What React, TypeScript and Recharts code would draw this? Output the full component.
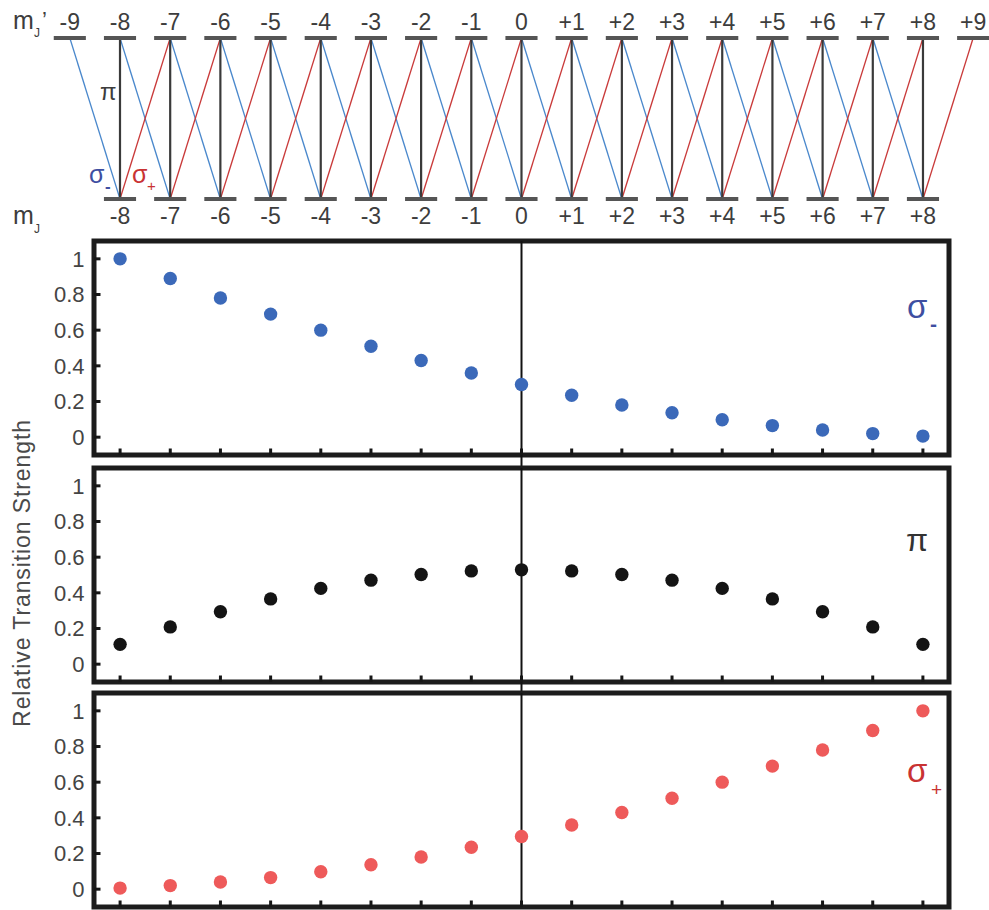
import { ScatterChart, Scatter, XAxis, YAxis, ReferenceLine, ReferenceArea } from "recharts";

// m_J of the lower levels, m_J' of the upper levels
const MJ = [-8, -7, -6, -5, -4, -3, -2, -1, 0, 1, 2, 3, 4, 5, 6, 7, 8];
const MJ_UPPER = [-9, -8, -7, -6, -5, -4, -3, -2, -1, 0, 1, 2, 3, 4, 5, 6, 7, 8, 9];

// relative transition strengths
const SIGMA_MINUS = [1.0, 0.89, 0.78, 0.69, 0.6, 0.51, 0.43, 0.36, 0.295, 0.235, 0.18, 0.137, 0.098, 0.065, 0.04, 0.02, 0.006];
const PI = [0.111, 0.209, 0.294, 0.366, 0.425, 0.471, 0.503, 0.523, 0.529, 0.523, 0.503, 0.471, 0.425, 0.366, 0.294, 0.209, 0.111];
const SIGMA_PLUS = [0.006, 0.02, 0.04, 0.065, 0.098, 0.137, 0.18, 0.235, 0.295, 0.36, 0.43, 0.51, 0.6, 0.69, 0.78, 0.89, 1.0];
const Y_TICKS = [0, 0.2, 0.4, 0.6, 0.8, 1];

const W = 989;
const FONT = "'Liberation Sans', Arial, sans-serif";
const TEXT = "#3d3d3d";
const BLUE_DOT = "#3b69b9";
const RED_DOT = "#ee5a5a";
const BLACK_DOT = "#141414";
const BLUE_LINE = "#4a88cc";
const RED_LINE = "#c93a3a";
const BLUE_TXT = "#3e4fa1";
const RED_TXT = "#c93333";

const X_DOMAIN: [number, number] = [-8.52, 8.52];
const PANEL_H = 214;
const PAD = 12;

const fmtM = (n: number) => (n > 0 ? `+${n}` : `${n}`);
const noLabel = () => <g />;

const Panel = ({ top, values, color, extendDown }: { top: number; values: number[]; color: string; extendDown: boolean }) => {
  const data = MJ.map((m, i) => ({ m, v: values[i] }));
  // x axes get height 1 (a zero-height axis is not drawn), taken out of the margins
  return (
    <div style={{ position: "absolute", left: 0, top: top - PAD, width: W }}>
      <ScatterChart width={W} height={PANEL_H + 2 * PAD} margin={{ top: PAD - 1, bottom: PAD - 1, left: 44, right: 40 }}>
        <XAxis type="number" dataKey="m" domain={X_DOMAIN} ticks={MJ} interval={0} height={1}
          allowDataOverflow axisLine={false} tick={noLabel} tickSize={-6.5}
          tickLine={{ stroke: "#161616", strokeWidth: 3 }} />
        <XAxis xAxisId="top" orientation="top" type="number" domain={X_DOMAIN} ticks={MJ} interval={0} height={1}
          allowDataOverflow axisLine={false} tick={noLabel} tickSize={-6.5}
          tickLine={{ stroke: "#161616", strokeWidth: 3 }} />
        <YAxis type="number" dataKey="v" domain={[-0.1, 1.1]} ticks={Y_TICKS} interval={0} width={50}
          allowDataOverflow axisLine={false} tickSize={-6.5} tickMargin={16}
          tickLine={{ stroke: "#161616", strokeWidth: 3 }}
          tick={{ fill: "#444", fontSize: 22, fontFamily: FONT }} />
        <ReferenceLine segment={[{ x: 0, y: extendDown ? -0.19 : -0.1 }, { x: 0, y: 1.1 }]}
          stroke="#111" strokeWidth={2} ifOverflow="visible" />
        <Scatter data={data} dataKey="v" isAnimationActive={false}
          shape={(p: any) => <circle cx={p.cx} cy={p.cy} r={6.7} fill={color} />} />
        <ReferenceArea x1={X_DOMAIN[0]} x2={X_DOMAIN[1]} y1={-0.1} y2={1.1} fill="none"
          stroke="#1c1c1c" strokeWidth={5} ifOverflow="visible" />
      </ScatterChart>
    </div>
  );
};

const LevelDiagram = () => {
  const domain: [number, number] = [-9.4, 9.2];
  const tickStyle = { fill: TEXT, fontSize: 23, fontFamily: FONT };
  // level centres (upper at y = 1, lower at y = 0), used as an invisible series
  const levels = [...MJ_UPPER.map((m) => ({ x: m, y: 1 })), ...MJ.map((m) => ({ x: m, y: 0 }))];
  return (
    <div style={{ position: "absolute", left: 0, top: 0, width: W }}>
      <ScatterChart width={W} height={240} margin={{ top: 37, bottom: 40, left: 49.74, right: 5.8 }}>
        <XAxis xAxisId="top" orientation="top" type="number" dataKey="x" domain={domain} ticks={MJ_UPPER} interval={0}
          height={1} allowDataOverflow axisLine={false} tickLine={false} tickSize={0} tickMargin={8}
          tickFormatter={fmtM} tick={tickStyle} />
        <XAxis type="number" dataKey="x" domain={domain} ticks={MJ} interval={0} height={1} allowDataOverflow
          axisLine={false} tickLine={false} tickSize={0} tickMargin={9} tickFormatter={fmtM} tick={tickStyle} />
        <YAxis type="number" dataKey="y" domain={[0, 1]} width={0} axisLine={false} tickLine={false} tick={false} />
        {MJ.map((m) => (
          <ReferenceLine key={`b${m}`} segment={[{ x: m, y: 0 }, { x: m - 1, y: 1 }]}
            stroke={BLUE_LINE} strokeWidth={1.3} ifOverflow="visible" />
        ))}
        {MJ.map((m) => (
          <ReferenceLine key={`r${m}`} segment={[{ x: m, y: 0 }, { x: m + 1, y: 1 }]}
            stroke={RED_LINE} strokeWidth={1.3} ifOverflow="visible" />
        ))}
        {MJ.map((m) => (
          <ReferenceLine key={`p${m}`} segment={[{ x: m, y: 0 }, { x: m, y: 1 }]}
            stroke="#3a3a3a" strokeWidth={2.2} ifOverflow="visible" />
        ))}
        {MJ_UPPER.map((m) => (
          <ReferenceLine key={`u${m}`} segment={[{ x: m - 0.32, y: 1 }, { x: m + 0.32, y: 1 }]}
            stroke="#555" strokeWidth={4} ifOverflow="visible" />
        ))}
        {MJ.map((m) => (
          <ReferenceLine key={`l${m}`} segment={[{ x: m - 0.32, y: 0 }, { x: m + 0.32, y: 0 }]}
            stroke="#555" strokeWidth={4} ifOverflow="visible" />
        ))}
        <Scatter data={levels} isAnimationActive={false} shape={() => <g />} />
      </ScatterChart>
    </div>
  );
};

export default function App() {
  return (
    <div style={{ position: "absolute", left: 0, top: 0, width: W, height: 910, background: "#fff" }}>
      <LevelDiagram />
      <Panel top={241} values={SIGMA_MINUS} color={BLUE_DOT} extendDown />
      <Panel top={468} values={PI} color={BLACK_DOT} extendDown />
      <Panel top={693} values={SIGMA_PLUS} color={RED_DOT} extendDown={false} />
      <svg width={W} height={910} style={{ position: "absolute", left: 0, top: 0, pointerEvents: "none" }}
        fontFamily={FONT}>
        {/* level labels */}
        <text x={13} y={29} fontSize={25} fill={TEXT}>m</text>
        <text x={34} y={37} fontSize={12} fill={TEXT}>J</text>
        <text x={42} y={27} fontSize={22} fill={TEXT}>’</text>
        <text x={13} y={224} fontSize={25} fill={TEXT}>m</text>
        <text x={34} y={233} fontSize={12} fill={TEXT}>J</text>
        {/* transition labels in the diagram */}
        <text x={100} y={100} fontSize={24} fill={TEXT}>π</text>
        <text x={89} y={183} fontSize={25} fill={BLUE_TXT}>σ</text>
        <text x={105} y={192} fontSize={17} fontWeight="bold" fill={BLUE_TXT}>-</text>
        <text x={132} y={183} fontSize={25} fill={RED_TXT}>σ</text>
        <text x={147} y={191} fontSize={15} fill={RED_TXT}>+</text>
        {/* panel labels */}
        <text x={907} y={318} fontSize={33} fill={BLUE_TXT}>σ</text>
        <text x={930} y={331} fontSize={21} fontWeight="bold" fill={BLUE_TXT}>-</text>
        <text x={906} y={551} fontSize={32} fill="#333">π</text>
        <text x={907} y={782} fontSize={33} fill={RED_TXT}>σ</text>
        <text x={931} y={796} fontSize={19} fill={RED_TXT}>+</text>
        <text transform="translate(30,573) rotate(-90)" textAnchor="middle" fontSize={23} letterSpacing={0.9}
          fill="#4a4a4a">
          Relative Transition Strength
        </text>
      </svg>
    </div>
  );
}
